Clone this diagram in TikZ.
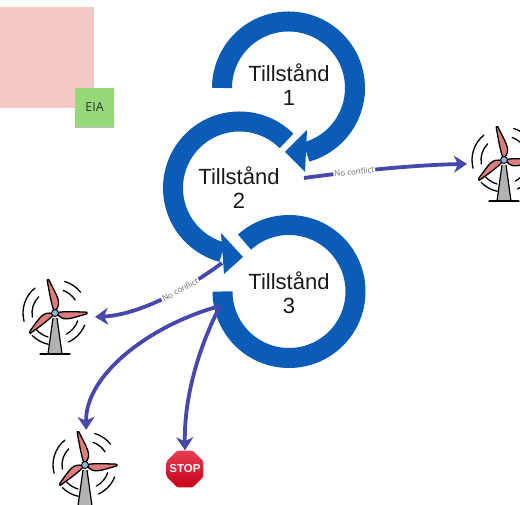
\documentclass[tikz,border=0pt]{standalone}
\usepackage{fontspec}
\setmainfont{Liberation Sans}
\newfontfamily\notefont{Open Sans}
\usetikzlibrary{arrows.meta,shapes.geometric,shadows}
\definecolor{ringblue}{RGB}{10,92,182}
\definecolor{flowblue}{RGB}{70,72,172}
\definecolor{padred}{RGB}{244,201,195}
\definecolor{notegreen}{RGB}{150,216,122}
\definecolor{bladered}{RGB}{222,125,125}
\definecolor{hubblue}{RGB}{140,180,220}
\definecolor{stopred}{RGB}{222,0,26}
\tikzset{
    turbine/.pic={
        \fill[gray!60] (-2,-5) -- (-7,-41) -- (7,-41) -- (2,-5) -- cycle;
        \draw[black,line width=1.2pt] (-2,-5) -- (-7,-41) (2,-5) -- (7,-41);
        \draw[black,line width=1.3pt,line cap=round] (-15,-41) -- (15,-41);
        \foreach \a/\l in {102/34,0/32,218/32} {
            \draw[rotate=\a,fill=bladered,line width=1.3pt,line join=round] (2,-0.5) .. controls (8,-9) and (14,-6) .. (\l,-0.8) -- (\l,0.8) .. controls (16,1.5) and (8,1.5) .. (2,0.5) -- cycle;
        }
        \draw[fill=hubblue,line width=0.9pt] (0,0) circle (3.5pt);
        \foreach \r/\s/\e in {32/129/195,23/135/190,33/73/39,24/70/33,32/-22/-65,24/-19/-62,32/258/225,25/254/222} {
            \draw[black,line width=1.3pt,line cap=round] (\s:\r) arc[start angle=\s,end angle=\e,radius=\r pt];
        }
    }
}
\begin{document}
\begin{tikzpicture}[
        x=1pt,y=1pt,
        ring/.style={draw=ringblue,line width=20pt},
        head/.style={fill=ringblue},
        title/.style={font=\fontsize{22}{24}\selectfont,align=center,text=black!90,inner sep=0pt},
        flow/.style={draw=flowblue,line width=3.8pt,-{Stealth[length=13pt,width=17pt,inset=4pt]}},
        conflict/.style={font=\notefont\fontsize{8}{9}\selectfont,text=gray!80!black,fill=white,inner sep=1pt,sloped},
        turbnode/.style={circle,minimum size=74pt,inner sep=0pt}
    ]
    \clip (0,0) rectangle (520,505);
    \node [fill=padred,minimum width=94pt,minimum height=101pt,inner sep=0pt] (pad) at (47,447.5) {};
    \node [fill=notegreen,minimum size=39pt,inner sep=0pt,font=\notefont\fontsize{12.5}{14}\selectfont,text=black!80,drop shadow={shadow xshift=0pt,shadow yshift=-1.5pt,opacity=0.25,fill=black}] (eia) at (94.5,397.5) {EIA};
    \foreach \cx/\cy/\from/\to in {288.5/417/180/-74.5,239.5/317/45/255,289/213.5/132/-180} {
        \draw[ring] (\cx,\cy) ++(\from:66.5) arc[start angle=\from,end angle=\to,radius=66.5pt];
    }
    \fill[head] (307,375) -- (285,353) -- (305,333) -- cycle;
    \fill[head] (243,248) -- (221,272) -- (224,231) -- cycle;
    \node [title] (t1) at (289,420) {Tillstånd\\1};
    \node [title] (t2) at (239,317) {Tillstånd\\2};
    \node [title] (t3) at (289,212) {Tillstånd\\3};
    \node [turbnode] (turbR) at (504,345) {};
    \node [turbnode] (turbL) at (55,192) {};
    \node [turbnode] (turbB) at (85,40) {};
    \foreach \t in {turbR,turbL,turbB} {
        \pic at (\t) {turbine};
    }
    \node [regular polygon,regular polygon sides=8,minimum size=40pt,inner sep=0pt,top color=stopred!75!white,bottom color=stopred!90!black,rounded corners=1.5pt,label={[text=white,font=\bfseries\fontsize{11.5}{12}\selectfont,inner sep=0pt]center:STOP}] (stop) at (185,36) {};
    \coordinate (out2) at (304,327);
    \coordinate (out2b) at (222,242);
    \coordinate (out3) at (220,199);
    \draw[flow] (out2) .. controls (370,336) and (420,340) .. (turbR.186) node[conflict,pos=0.27] (nc1) {No conflict};
    \draw[flow] (out2b) .. controls (190,218) and (140,190) .. ([xshift=3pt]turbL.-6) node[conflict,pos=0.37] (nc2) {No conflict};
    \draw[flow] (out3) .. controls (150,180) and (85,130) .. ([yshift=-2pt]turbB.88);
    \draw[flow] (out3) .. controls (200,160) and (184,110) .. (stop.north);
\end{tikzpicture}
\end{document}
